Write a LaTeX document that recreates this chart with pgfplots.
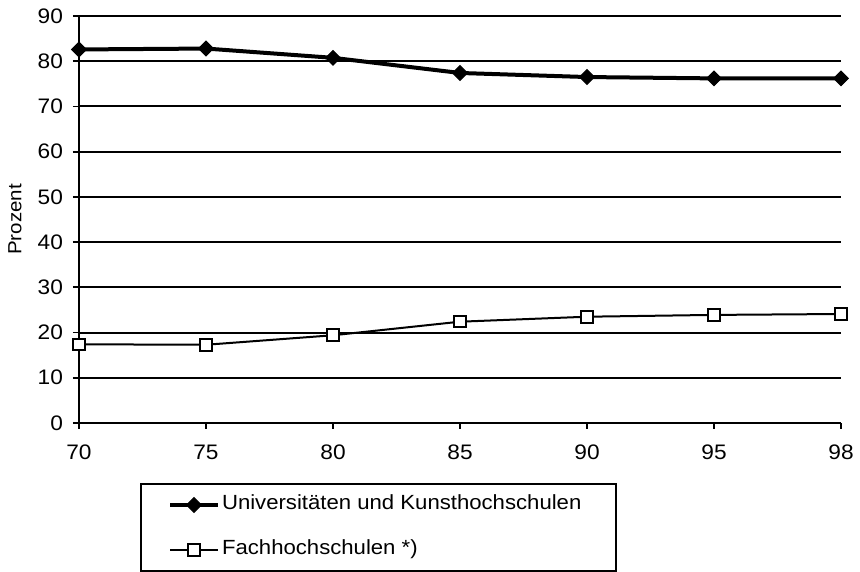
\documentclass[border=0pt]{standalone}
\usepackage{fontspec}
\setmainfont{Liberation Sans}[FakeStretch=1.08]
\usepackage{pgfplots}
\pgfplotsset{compat=1.18}
\begin{document}
\fontsize{20.5}{24}\selectfont
\begin{tikzpicture}
\begin{axis}[
  name=ax,
  scale only axis, width=762pt, height=407pt,
  xmin=0, xmax=6, ymin=0, ymax=90,
  xtick={0,...,6}, xticklabels={70,75,80,85,90,95,98},
  ytick={0,10,...,90},
  axis x line=bottom, axis y line=left,
  axis line style={-, line width=2pt},
  ymajorgrids, grid style={black, line width=2pt},
  tick align=outside, major tick length=6pt,
  tick style={black, line width=1.8pt},
  ticklabel style={font=\fontsize{21}{24}\selectfont},
  /pgf/number format/assume math mode=true,
  xticklabel style={yshift=-9pt},
  yticklabel style={xshift=-3pt},
  clip=false,
  legend style={at={(axis description cs:0.0801,-0.1474)}, anchor=north west,
    draw=black, line width=2pt, inner xsep=27pt, inner ysep=11pt,
    row sep=25pt, column sep=2pt,
    nodes={inner xsep=0pt, inner ysep=0pt, text height=15pt, text depth=5pt,
      font=\fontsize{20.5}{24}\selectfont}},
  legend cell align=left,
  legend image code/.code={\draw[mark repeat=2,mark phase=2,#1] plot coordinates {(0pt,0pt) (24pt,0pt) (48pt,0pt)};},
]
\addplot[black, line width=4pt, mark=square*, mark size=5.2pt,
  mark options={solid, rotate=45, line width=1pt}]
  coordinates {(0,82.6) (1,82.8) (2,80.75) (3,77.4) (4,76.5) (5,76.2) (6,76.2)};
\addlegendentry{Universitäten und Kunsthochschulen\hspace*{8pt}}
\addplot[black, line width=2pt, mark=square*, mark size=5.8pt,
  mark options={solid, fill=white, line width=2pt}]
  coordinates {(0,17.4) (1,17.3) (2,19.4) (3,22.4) (4,23.5) (5,23.9) (6,24.1)};
\addlegendentry{Fachhochschulen *)}
\coordinate (ll) at (rel axis cs:0,0);
\coordinate (ur) at (rel axis cs:1,1);
\coordinate (yl) at (axis description cs:0,0.5);
\end{axis}
\node[rotate=90, anchor=center, font=\fontsize{19}{22}\selectfont, inner sep=0pt] at ([xshift=-64pt]yl) {Prozent};
\pgfresetboundingbox
\path ([shift={(-79pt,-149pt)}]ll) rectangle ([shift={(19pt,16pt)}]ur);
\end{tikzpicture}
\end{document}
